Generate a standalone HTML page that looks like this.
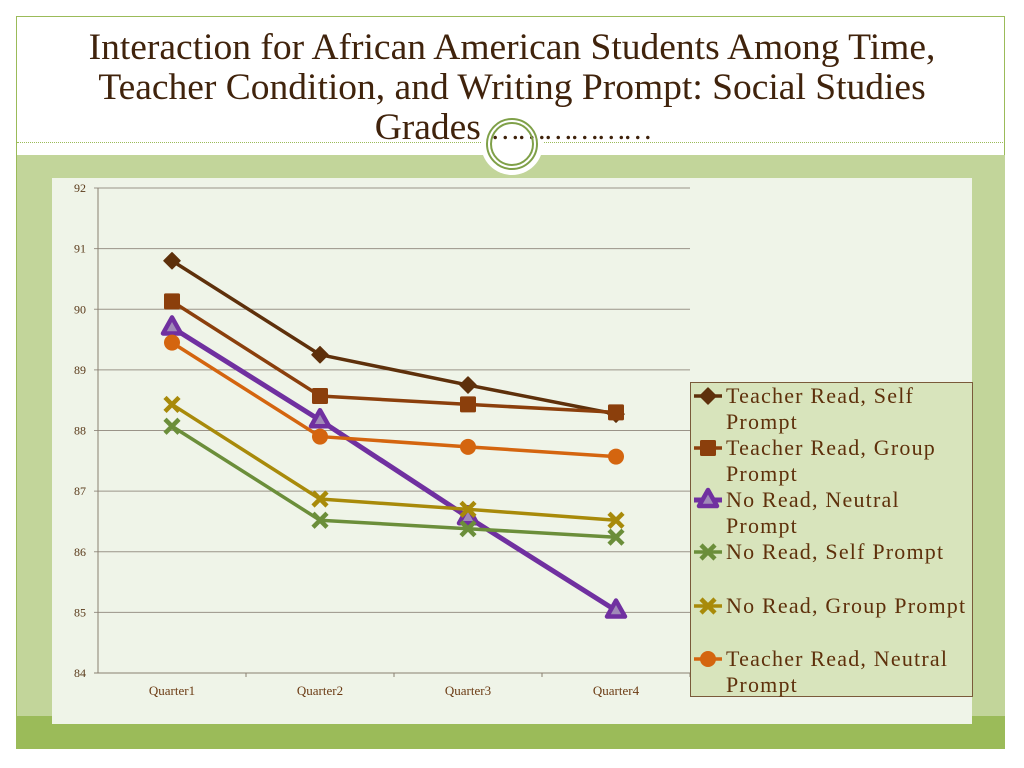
<!DOCTYPE html>
<html><head><meta charset="utf-8"><style>
body{margin:0;width:1024px;height:768px;background:#fff;position:relative;overflow:hidden;font-family:"Liberation Serif",serif}
#frame{position:absolute;left:16px;top:16px;width:989px;height:733px;border:1px solid #9bbb59;box-sizing:border-box;background:#fff}
#band{position:absolute;left:17px;top:155px;width:988px;height:561px;background:#c2d59a}
#band2{position:absolute;left:17px;top:716px;width:988px;height:33px;background:#9bbb59}
#dots{position:absolute;left:17px;top:142px;width:988px;border-top:1px dotted #9bbb59}
#title{position:absolute;left:20px;top:28px;width:984px;text-align:center;font-size:37.5px;line-height:40px;color:#40230c}
#title span{letter-spacing:-3.5px;font-size:30px}
#panel{position:absolute;left:52px;top:178px;width:920px;height:546px;background:#eff4e8}
</style></head><body>
<div id="frame"></div>
<div id="dots"></div>
<div id="band"></div>
<div id="band2"></div>
<svg style="position:absolute;left:0;top:0" width="1024" height="768">
<circle cx="512" cy="144" r="31" fill="#fff"/>
</svg>
<div id="title">Interaction for African American Students Among Time,<br>Teacher Condition, and Writing Prompt: Social Studies<br>Grades <span>………………</span></div>
<svg style="position:absolute;left:0;top:0" width="1024" height="768">
<circle cx="512" cy="144" r="25" fill="none" stroke="#7fa048" stroke-width="2"/>
<circle cx="512" cy="144" r="21" fill="none" stroke="#7fa048" stroke-width="2"/>
</svg>
<div id="panel"></div>
<svg id="chart" style="position:absolute;left:0;top:0" width="1024" height="768"></svg>
<script>
const categories=["Quarter1","Quarter2","Quarter3","Quarter4"];
const yTicks=[84,85,86,87,88,89,90,91,92];
const seriesNames=["Teacher Read, Self Prompt","Teacher Read, Group Prompt","No Read, Neutral Prompt","No Read, Self Prompt","No Read, Group Prompt","Teacher Read, Neutral Prompt"];
const trSelf=[90.8,89.25,88.75,88.27];
const trGroup=[90.13,88.57,88.43,88.3];
const nrNeutral=[89.7,88.17,86.57,85.03];
const nrSelf=[88.07,86.52,86.38,86.24];
const nrGroup=[88.43,86.87,86.7,86.52];
const trNeutral=[89.45,87.9,87.73,87.57];
const seriesData=[trSelf,trGroup,nrNeutral,nrSelf,nrGroup,trNeutral];
const colors=["#5e300b","#8b3f0c","#7030a0","#6b8e3a","#a88a0a","#d4650f"];
const markers=["diamond","square","triangle","x","x","circle"];
const widths=[3.5,3.5,5,3.5,3.5,3.5];
const svg=document.getElementById('chart');const NS="http://www.w3.org/2000/svg";
const x0=98,x1=690,yTop=188,yBot=673,yMin=84,yMax=92;
const xs=i=>x0+(x1-x0)/categories.length*(i+0.5);
const ys=v=>yBot-(v-yMin)/(yMax-yMin)*(yBot-yTop);
function mk(t,a,p){const e=document.createElementNS(NS,t);for(const k in a)e.setAttribute(k,a[k]);(p||svg).appendChild(e);return e;}
yTicks.forEach(t=>{
 const g=mk('line',{x1:x0-4,x2:x1,y1:ys(t),y2:ys(t),stroke:t===yMin?'#8a7f70':'#9a9388','stroke-width':1});
 
 
 const l=mk('text',{x:86,y:ys(t)+4,'text-anchor':'end','font-size':12,fill:'#5a3a1a'});l.textContent=t;
 
 
});
const ax=mk('line',{x1:x0,x2:x0,y1:yTop,y2:yBot,stroke:'#8a7f70'});


categories.forEach((c,i)=>{
 const tk=mk('line',{x1:x0+(x1-x0)/4*(i+1),x2:x0+(x1-x0)/4*(i+1),y1:yBot,y2:yBot+4,stroke:'#8a7f70'});
 
 
 const t=mk('text',{x:xs(i),y:yBot+22,'text-anchor':'middle','font-size':13,fill:'#6b3a12'});t.textContent=c;
 
 
});
function marker(type,x,y,c,p){
 let e;
 if(type==='diamond')e=mk('polygon',{points:`${x},${y-8} ${x+8},${y} ${x},${y+8} ${x-8},${y}`,fill:c,stroke:c,'stroke-width':1.5,'stroke-linejoin':'round'},p);
 else if(type==='square')e=mk('rect',{x:x-8,y:y-8,width:16,height:16,fill:c,rx:1.5},p);
 else if(type==='triangle')e=mk('polygon',{points:`${x},${y-10} ${x+9},${y+6} ${x-9},${y+6}`,fill:'#a08ab8',stroke:c,'stroke-width':4.5,'stroke-linejoin':'round'},p);
 else if(type==='circle')e=mk('circle',{cx:x,cy:y,r:8,fill:c},p);
 else {e=mk('path',{d:`M${x-7} ${y-7}L${x+7} ${y+7}M${x+7} ${y-7}L${x-7} ${y+7}`,stroke:c,'stroke-width':4.5},p);}
 return e;
}
seriesData.forEach((d,s)=>{
 const g=mk('g',{});
 
 
 const pl=mk('polyline',{points:d.map((v,i)=>xs(i)+','+ys(v)).join(' '),fill:'none',stroke:colors[s],'stroke-width':widths[s],'stroke-linejoin':'round'},g);
 
 
 d.forEach((v,i)=>{const m=marker(markers[s],xs(i),ys(v),colors[s],g);
  
  });
});
const lg=mk('g',{});


mk('rect',{x:690.5,y:382.5,width:282,height:314,fill:'#d8e4bc',stroke:'#7a5a3a','stroke-width':1},lg);
const ly=[396,448,500,552,606,659];
const lines=[["Teacher Read, Self","Prompt"],["Teacher Read, Group","Prompt"],["No Read, Neutral","Prompt"],["No Read, Self Prompt"],["No Read, Group Prompt"],["Teacher Read, Neutral","Prompt"]];
seriesNames.forEach((n,s)=>{
 const e=mk('g',{},lg);
 
 
 mk('line',{x1:694,x2:722,y1:ly[s],y2:ly[s],stroke:colors[s],'stroke-width':widths[s]},e);
 marker(markers[s],708,ly[s],colors[s],e);
 const t=mk('text',{x:726,y:ly[s]+7,'font-size':22,'letter-spacing':1.2,fill:'#5e300b'},e);
 lines[s].forEach((l,k)=>{const ts=mk('tspan',{x:726,dy:k?26:0},t);ts.textContent=l;});
});
</script>
</body></html>
